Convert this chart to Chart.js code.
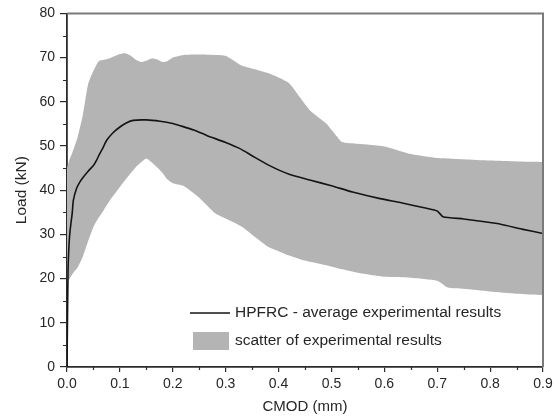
<!DOCTYPE html>
<html>
<head>
<meta charset="utf-8">
<script src="https://cdn.jsdelivr.net/npm/chart.js@4/dist/chart.umd.min.js"></script>
<style>
html,body{margin:0;padding:0;background:#fff;}
#wrap{width:560px;height:418px;position:relative;}
</style>
</head>
<body>
<div id="wrap"><canvas id="c" width="560" height="418"></canvas></div>
<script>
// ---- data ----
const bandX = [0,0.005,0.01,0.02,0.03,0.04,0.05,0.06,0.07,0.08,0.1,0.11,0.12,0.125,0.13,0.14,0.15,0.16,0.17,0.18,0.19,0.2,0.22,0.25,0.28,0.3,0.33,0.36,0.38,0.4,0.42,0.44,0.46,0.49,0.51,0.52,0.55,0.6,0.65,0.7,0.72,0.75,0.8,0.85,0.9];
const bandUpper = [45,47,48.5,52,57,64,67,69.2,69.5,69.8,70.8,71,70.5,70,69.5,69,69.3,69.8,69.6,69,69.2,70,70.6,70.7,70.6,70.4,68.2,67.2,66.5,65.5,64.2,61.1,58,55.1,52.2,50.9,50.5,49.9,48.2,47.3,47.2,47.0,46.7,46.5,46.4];
const bandLower = [19,20,21,22.5,25,28.5,31.7,33.8,35.6,37.5,40.7,42.3,43.8,44.5,45.2,46.3,47.2,46.3,45.2,44,42.4,41.6,41,38.3,34.8,33.6,31.8,29,27.2,26.2,25.2,24.4,23.8,23,22.4,22.1,21.3,20.4,20.2,19.5,18.0,17.7,17.1,16.6,16.3];
const avgX = [0,0.002,0.004,0.006,0.01,0.012,0.018,0.025,0.031,0.04,0.05,0.056,0.062,0.068,0.075,0.087,0.1,0.112,0.125,0.15,0.176,0.2,0.214,0.24,0.264,0.3,0.327,0.35,0.384,0.42,0.459,0.5,0.54,0.592,0.63,0.68,0.7,0.711,0.75,0.793,0.82,0.86,0.9];
const avgY = [0,22,28,31,35,37.7,40.4,42,43,44.3,45.6,46.8,48.3,49.6,51.3,53,54.3,55.2,55.8,55.9,55.6,55.1,54.6,53.6,52.4,50.8,49.4,47.8,45.5,43.6,42.3,41,39.6,38.1,37.2,35.9,35.3,34.0,33.5,32.8,32.3,31.2,30.2];
const xTicks = [0,0.1,0.2,0.3,0.4,0.5,0.6,0.7,0.8,0.9];
const yTicks = [0,10,20,30,40,50,60,70,80];
const labelAvg = 'HPFRC - average experimental results';
const labelBand = 'scatter of experimental results';
const xTitle = 'CMOD (mm)';
const yTitle = 'Load (kN)';

const pts = (xs, ys) => xs.map((x,i)=>({x:x,y:ys[i]}));
const AXIS = '#2b2b2b', TXT = '#262626', GREY = '#b4b4b4';
const FONT = "'Liberation Sans', Arial, sans-serif";

const extras = {
  id:'extras',
  afterDraw(chart){
    const ctx = chart.ctx, a = chart.chartArea;
    const xs = chart.scales.x, ys = chart.scales.y;
    ctx.save();
    // top & right frame
    ctx.strokeStyle = '#7a7a7a'; ctx.lineWidth = 2;
    ctx.beginPath();
    ctx.moveTo(a.left, a.top); ctx.lineTo(a.right, a.top); ctx.lineTo(a.right, a.bottom);
    ctx.stroke();
    // minor ticks
    ctx.strokeStyle = AXIS; ctx.lineWidth = 1.2;
    ctx.beginPath();
    for (let i=0;i<yTicks.length-1;i++){
      const v = (yTicks[i]+yTicks[i+1])/2, p = Math.round(ys.getPixelForValue(v))+0.5;
      ctx.moveTo(a.left-4, p); ctx.lineTo(a.left, p);
    }
    for (let i=0;i<xTicks.length-1;i++){
      const v = (xTicks[i]+xTicks[i+1])/2, p = Math.round(xs.getPixelForValue(v))+0.5;
      ctx.moveTo(p, a.bottom); ctx.lineTo(p, a.bottom+3);
    }
    ctx.stroke();
    // legend
    const lx = a.left + 123, ly1 = a.bottom - 54, ly2 = a.bottom - 26;
    const ds = chart.data.datasets;
    ctx.strokeStyle = ds[0].borderColor; ctx.lineWidth = 1.5;
    ctx.beginPath(); ctx.moveTo(lx, ly1); ctx.lineTo(lx+40, ly1); ctx.stroke();
    ctx.fillStyle = ds[1].backgroundColor;
    ctx.fillRect(lx+3, ly2-9, 36, 18);
    ctx.fillStyle = TXT; ctx.font = "15.5px " + FONT; ctx.textBaseline = 'middle';
    ctx.fillText(ds[0].label, lx+45, ly1);
    ctx.fillText(ds[1].label, lx+45, ly2);
    ctx.restore();
  }
};

new Chart(document.getElementById('c'), {
  type:'line',
  data:{
    datasets:[
      {label:labelAvg, data:pts(avgX,avgY), borderColor:'#141414', borderWidth:1.6, pointRadius:0, fill:false, tension:0.2},
      {label:labelBand, data:pts(bandX,bandUpper), borderWidth:0, borderColor:GREY, backgroundColor:GREY, pointRadius:0, fill:'+1', tension:0.2},
      {label:'lower', data:pts(bandX,bandLower), borderWidth:0, borderColor:GREY, backgroundColor:GREY, pointRadius:0, fill:false, tension:0.2}
    ]
  },
  options:{
    responsive:false, animation:false,
    layout:{padding:{left:0,right:17,top:13,bottom:0}},
    plugins:{legend:{display:false}, tooltip:{enabled:false}},
    scales:{
      x:{type:'linear', min:0, max:0.9,
        afterBuildTicks:(s)=>{s.ticks = xTicks.map(v=>({value:v}));},
        afterFit:(s)=>{s.height = 51;},
        ticks:{callback:(v)=>Number(v).toFixed(1), color:TXT, font:{family:FONT,size:14}, padding:4, maxRotation:0, autoSkip:false},
        grid:{display:true, drawOnChartArea:false, drawTicks:true, tickLength:5, color:AXIS, lineWidth:1.2},
        border:{display:true, color:AXIS, width:1.8},
        title:{display:true, text:xTitle, color:TXT, font:{family:FONT,size:15}, padding:{top:0,bottom:2}}
      },
      y:{type:'linear', min:0, max:80,
        afterBuildTicks:(s)=>{s.ticks = yTicks.map(v=>({value:v}));},
        afterFit:(s)=>{s.width = 67;},
        ticks:{callback:(v)=>String(v), color:TXT, font:{family:FONT,size:14}, padding:5, autoSkip:false},
        grid:{display:true, drawOnChartArea:false, drawTicks:true, tickLength:7, color:AXIS, lineWidth:1.2},
        border:{display:true, color:AXIS, width:1.8},
        title:{display:true, text:yTitle, color:TXT, font:{family:FONT,size:15.5}, padding:{top:12,bottom:0}}
      }
    }
  },
  plugins:[extras]
});
</script>
</body>
</html>
